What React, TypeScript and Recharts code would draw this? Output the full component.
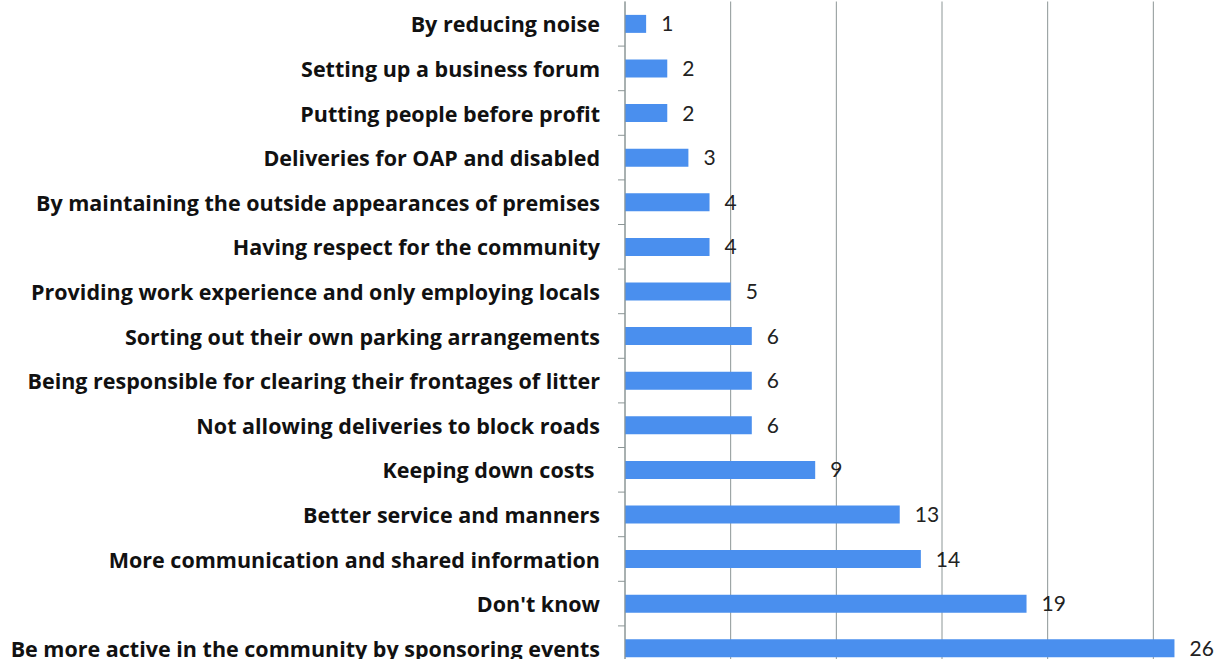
import { BarChart, Bar, XAxis, YAxis, CartesianGrid, LabelList } from 'recharts'

const categories = [
  'By reducing noise',
  'Setting up a business forum',
  'Putting people before profit',
  'Deliveries for OAP and disabled',
  'By maintaining the outside appearances of premises',
  'Having respect for the community',
  'Providing work experience and only employing locals',
  'Sorting out their own parking arrangements',
  'Being responsible for clearing their frontages of litter',
  'Not allowing deliveries to block roads',
  'Keeping down costs ',
  'Better service and manners',
  'More communication and shared information',
  "Don't know",
  'Be more active in the community by sponsoring events',
]
const counts = [1, 2, 2, 3, 4, 4, 5, 6, 6, 6, 9, 13, 14, 19, 26]
const xTicks = [0, 5, 10, 15, 20, 25, 30]

const CHART_W = 1270
const CHART_H = 680
const MARGIN = { top: 1.5, right: 11, bottom: 9.5, left: 0 }
const BAND = (CHART_H - MARGIN.top - MARGIN.bottom) / categories.length
const LABEL_FONT = '"Open Sans", Lato, sans-serif'
const VALUE_FONT = 'Lato, "Open Sans", sans-serif'

const data = categories.map((name, i) => ({ name, value: counts[i] }))

function CategoryTick({ x, y, payload }: any) {
  return (
    <g>
      <line x1={x - 7} x2={x} y1={y + BAND / 2} y2={y + BAND / 2} stroke="#8c9696" />
      <text
        x={x - 25}
        y={y}
        textAnchor="end"
        dominantBaseline="central"
        fontFamily={LABEL_FONT}
        fontWeight={700}
        fontSize={21.5}
        fill="#111"
        style={{ whiteSpace: 'pre' }}
      >
        {payload.value}
      </text>
    </g>
  )
}

export default function App() {
  return (
    <div style={{ position: 'absolute', top: 0, left: 0, width: 1220, height: 659, overflow: 'hidden', background: '#fff' }}>
      <BarChart width={CHART_W} height={CHART_H} data={data} layout="vertical" margin={MARGIN} barCategoryGap="30%">
        <CartesianGrid horizontal={false} stroke="#8c9696" />
        <XAxis type="number" domain={[0, 30]} ticks={xTicks} hide />
        <YAxis
          type="category"
          dataKey="name"
          width={625}
          tickSize={0}
          tickMargin={0}
          tickLine={false}
          axisLine={{ stroke: '#8c9696' }}
          interval={0}
          tick={<CategoryTick />}
        />
        <Bar dataKey="value" fill="#4a8fee" isAnimationActive={false}>
          <LabelList dataKey="value" position="right" offset={15} fill="#222" fontSize={21} fontFamily={VALUE_FONT} />
        </Bar>
      </BarChart>
    </div>
  )
}
